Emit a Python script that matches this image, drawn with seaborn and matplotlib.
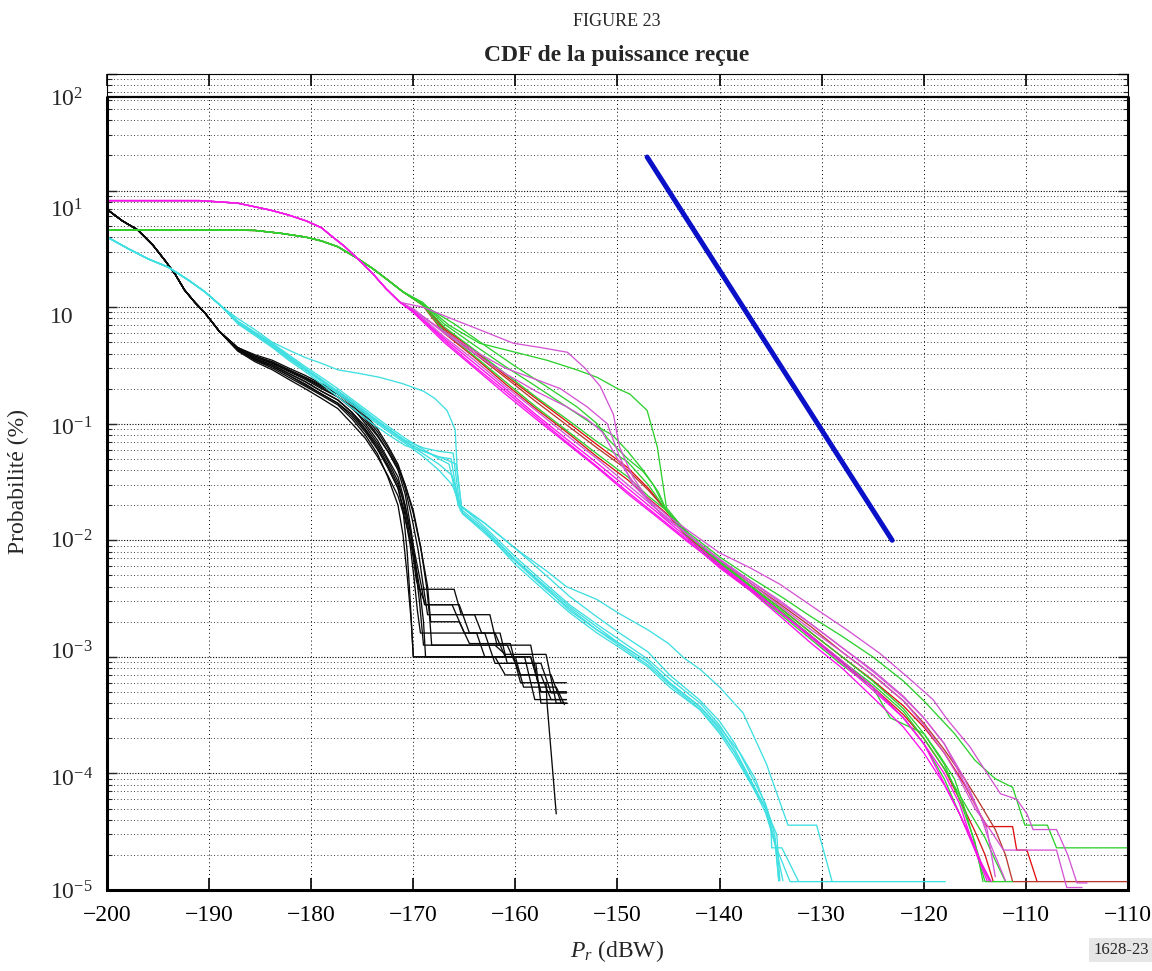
import numpy as np
import pandas as pd
import matplotlib
matplotlib.use("Agg")
import matplotlib.pyplot as plt
import seaborn as sns
from matplotlib.ticker import FixedLocator, NullFormatter
from matplotlib.transforms import blended_transform_factory

# ---------------- DATA (probability in %, power in dBW) ----------------
XTICKS = [-200, -190, -180, -170, -160, -150, -140, -130, -120, -110, -100]
XTICK_LABELS = ["\u2212200", "\u2212190", "\u2212180", "\u2212170", "\u2212160", "\u2212150",
                "\u2212140", "\u2212130", "\u2212120", "\u2212110", "\u2212110"]
YLABELS = ["10$^{2}$", "10$^{1}$", "10", "10$^{-1}$", "10$^{-2}$", "10$^{-3}$", "10$^{-4}$", "10$^{-5}$"]
YLABEL_EXP = [1.717, 0.765, -0.14, -1.10, -2.07, -3.02, -4.11, -5.08]

TOP_LINE_Y = 63.5

# black curves
BLACK_HEAD_X = [-200, -198.5, -197, -195.5, -194.3, -193.3, -192.4, -191.4, -190.4, -189.0]
BLACK_HEAD_Y = [6.9, 5.5, 4.6, 3.4, 2.5, 1.9, 1.4, 1.1, 0.89, 0.62]
BLACK_BODY_X = [-187.2, -185.5, -183.8, -182.2, -180.6, -179, -177.4, -176, -174.7, -173.5, -172.5, -171.5]
BLACK_BODY_Y = [
    [0.45, 0.38, 0.34, 0.29, 0.25, 0.21, 0.18, 0.145, 0.11, 0.08, 0.058, 0.04],
    [0.44, 0.36, 0.32, 0.27, 0.23, 0.19, 0.16, 0.125, 0.095, 0.068, 0.048, 0.032],
    [0.43, 0.35, 0.3, 0.25, 0.21, 0.175, 0.145, 0.11, 0.08, 0.055, 0.035, 0.02],
    [0.44, 0.37, 0.33, 0.28, 0.24, 0.2, 0.17, 0.135, 0.105, 0.078, 0.058, 0.042],
    [0.42, 0.34, 0.29, 0.24, 0.2, 0.165, 0.135, 0.1, 0.075, 0.052, 0.036, 0.024],
    [0.45, 0.39, 0.35, 0.3, 0.26, 0.22, 0.19, 0.155, 0.12, 0.09, 0.065, 0.045],
    [0.43, 0.35, 0.31, 0.26, 0.22, 0.18, 0.15, 0.115, 0.085, 0.06, 0.042, 0.028],
    [0.44, 0.36, 0.32, 0.27, 0.23, 0.19, 0.16, 0.125, 0.09, 0.065, 0.045, 0.03],
    [0.44, 0.37, 0.33, 0.285, 0.245, 0.205, 0.17, 0.14, 0.1, 0.072, 0.05, 0.035],
    [0.45, 0.38, 0.335, 0.29, 0.25, 0.215, 0.18, 0.15, 0.115, 0.085, 0.062, 0.043],
    [0.43, 0.36, 0.31, 0.26, 0.215, 0.18, 0.15, 0.12, 0.088, 0.062, 0.043, 0.028],
]
BLACK_TAIL_X = [
    [-170.8, -170.2, -169.8, -169.5, -166, -165.3, -164, -163.3, -161.5, -160.8, -158, -157.5, -155.2],
    [-171, -170.5, -170, -169.7, -168.8, -165.5, -164.5, -162, -161, -158.5, -157.5, -155],
    [-171, -170.6, -170.2, -170.0, -162, -161, -157.5, -156.5, -155],
    [-170.8, -170, -169.3, -168.7, -168.4, -168.2, -162, -161, -157, -156, -154.9],
    [-170.8, -170, -169.4, -169, -168.8, -159.1, -158.1, -155],
    [-170.8, -170, -169.2, -168.6, -168.3, -165.5, -164.5, -160.5, -159.5, -157, -156.9, -156],
    [-171, -170.6, -170.3, -170.0, -158.5, -157.5, -155],
    [-170.8, -170.2, -169.6, -169.2, -168.9, -166.2, -165, -163, -162, -157.5, -156.5, -155],
    [-171, -170.3, -169.8, -169.4, -169.0, -160.8, -159.5, -156.5, -155.5, -155],
    [-170.8, -170.1, -169.5, -169.1, -168.6, -162.5, -161.8, -158.5, -157.8, -155],
    [-170.9, -170.3, -169.9, -169.6, -169.3, -163.8, -163, -160, -159.2, -156, -155.2],
]
BLACK_TAIL_Y = [
    [0.025, 0.012, 0.0065, 0.0038, 0.0038, 0.0023, 0.0023, 0.0016, 0.0016, 0.00088, 0.00088, 0.0004, 0.0004],
    [0.022, 0.013, 0.007, 0.0045, 0.0028, 0.0028, 0.0016, 0.0016, 0.001, 0.001, 0.0005, 0.0005],
    [0.011, 0.005, 0.002, 0.001, 0.001, 0.0007, 0.0007, 0.00043, 0.00043],
    [0.03, 0.018, 0.009, 0.004, 0.0022, 0.00126, 0.00126, 0.00105, 0.00105, 0.0004, 0.0004],
    [0.015, 0.008, 0.004, 0.002, 0.001, 0.001, 0.00043, 0.00043],
    [0.03, 0.017, 0.008, 0.004, 0.002, 0.002, 0.0013, 0.0013, 0.0006, 0.0006, 0.0004, 0.000045],
    [0.018, 0.008, 0.003, 0.001, 0.001, 0.0005, 0.0005],
    [0.02, 0.011, 0.006, 0.004, 0.0028, 0.0028, 0.0016, 0.0016, 0.00088, 0.00088, 0.00049, 0.00049],
    [0.024, 0.012, 0.006, 0.003, 0.00126, 0.00126, 0.0007, 0.0007, 0.0004, 0.0004],
    [0.028, 0.015, 0.008, 0.0045, 0.0023, 0.0023, 0.00126, 0.00126, 0.0006, 0.0006],
    [0.018, 0.009, 0.0045, 0.0025, 0.0016, 0.0016, 0.001, 0.001, 0.00055, 0.00055, 0.00039],
]

# cyan curves
CYAN_HEAD_X = [-200, -198, -196, -194, -192, -190.4, -188.7]
CYAN_HEAD_Y = [4.0, 3.2, 2.6, 2.2, 1.7, 1.35, 1.0]
CYAN_BODY_X = [-187.2, -185.5, -183.8, -182.2, -180.6, -179, -177.4, -175.7, -174, -172.4, -170.8]
CYAN_X = [
    [-187.2, -185.5, -183.8, -182, -180.6, -179, -177.4, -175.3, -173.3, -171, -169, -167.9, -166.7,
     -165.9, -165.7, -165.2, -163, -160, -157, -154.7, -152, -149.8, -147, -144.9, -141.9, -140,
     -138.5, -137, -135.5, -134.6, -134.2],
    CYAN_BODY_X + [-169, -167.5, -166.2, -165.4, -163, -160, -157, -154.7, -152, -149.8, -147, -144.9,
                   -141.9, -140, -138.5, -137, -135.5, -134.4, -134.1],
    CYAN_BODY_X + [-169, -167.5, -166.1, -165.4, -163, -160, -157, -154.7, -152, -149.8, -147, -144.9,
                   -141.9, -140, -138.5, -137, -135.5, -134.6, -133.1, -117.9],
    CYAN_BODY_X + [-169, -167, -165.8, -165.2, -163, -160, -157, -154.7, -152, -149.8, -147, -144.9,
                   -142, -140, -138, -136.5, -135, -134.9, -133.9, -132.3],
    CYAN_BODY_X + [-169, -167.5, -166.2, -165.4, -163, -160, -157, -154.7, -152, -149.8, -147, -144.9,
                   -142, -140, -138.5, -137, -135.5, -134.6, -134.2],
    CYAN_BODY_X + [-169, -167.5, -166.5, -165.6, -163, -160, -157, -155, -152, -150, -147, -145,
                   -143.5, -141.9, -140, -137.7, -135.4, -133.3, -130.5, -129.0],
    CYAN_BODY_X + [-169, -167.5, -166.3, -165.5, -163, -160, -157, -154.7, -152, -149.8, -147, -144.9,
                   -142, -140, -138.5, -137, -135.5, -134.5, -133.8],
]
CYAN_Y = [
    [0.8, 0.64, 0.5, 0.42, 0.37, 0.33, 0.29, 0.27, 0.25, 0.22, 0.19, 0.165, 0.13, 0.089, 0.04, 0.017,
     0.012, 0.0068, 0.004, 0.0027, 0.0018, 0.0013, 0.0009, 0.0006, 0.00037, 0.00024, 0.00015, 8.8e-5,
     5e-5, 2.7e-5, 1.2e-5],
    [0.73, 0.58, 0.46, 0.36, 0.29, 0.23, 0.18, 0.14, 0.107, 0.085, 0.068,
     0.052, 0.04, 0.03, 0.02, 0.013, 0.0072, 0.0042, 0.0028, 0.0019, 0.0014, 0.00095, 0.00065,
     0.0004, 0.00026, 0.00016, 9e-5, 5e-5, 3e-5, 1.2e-5],
    [0.75, 0.6, 0.48, 0.38, 0.3, 0.24, 0.19, 0.15, 0.115, 0.09, 0.072,
     0.062, 0.058, 0.056, 0.018, 0.012, 0.0062, 0.0036, 0.0024, 0.0016, 0.0012, 0.00082, 0.00055,
     0.00035, 0.00022, 0.00014, 8.3e-5, 5e-5, 2.5e-5, 1.18e-5, 1.18e-5],
    [0.72, 0.57, 0.45, 0.35, 0.28, 0.22, 0.17, 0.13, 0.1, 0.08, 0.065,
     0.058, 0.05, 0.045, 0.017, 0.0115, 0.0066, 0.0038, 0.0026, 0.0017, 0.0013, 0.0009, 0.0006,
     0.00038, 0.00025, 0.00015, 9e-5, 4e-5, 2.3e-5, 2.3e-5, 1.2e-5],
    [0.74, 0.59, 0.47, 0.37, 0.29, 0.235, 0.185, 0.145, 0.11, 0.088, 0.07,
     0.055, 0.045, 0.036, 0.02, 0.014, 0.0085, 0.005, 0.0033, 0.0022, 0.0016, 0.0011, 0.0007,
     0.00043, 0.00028, 0.00018, 0.0001, 5.5e-5, 3e-5, 1.2e-5],
    [0.76, 0.61, 0.49, 0.39, 0.31, 0.25, 0.2, 0.155, 0.12, 0.094, 0.075,
     0.06, 0.05, 0.045, 0.02, 0.014, 0.0085, 0.0055, 0.004, 0.0031, 0.0024, 0.0017, 0.0013,
     0.00098, 0.00078, 0.00055, 0.00033, 0.00012, 3.6e-5, 3.6e-5, 1.2e-5],
    [0.74, 0.6, 0.47, 0.37, 0.295, 0.235, 0.19, 0.148, 0.112, 0.09, 0.071,
     0.058, 0.052, 0.05, 0.019, 0.0125, 0.0068, 0.0039, 0.0025, 0.0017, 0.00125, 0.00085, 0.00058,
     0.00036, 0.00023, 0.00015, 8.5e-5, 4.6e-5, 2.4e-5, 1.2e-5],
]

# magenta curves
MAG_HEAD_X = [-200, -195, -190.9, -187.2, -184, -182.3, -180.5, -179, -177.9, -176.7, -175.5, -174, -172.7, -171.3]
MAG_HEAD_Y = [8.2, 8.2, 8.2, 7.8, 6.8, 6.2, 5.5, 4.8, 4.0, 3.3, 2.63, 1.95, 1.45, 1.1]
BAND_X = [-170, -167, -164, -161, -158, -155, -152, -149, -146, -143, -140, -137, -134, -131, -128, -125, -122]
MAG_X = [
    BAND_X + [-120, -118, -116.5, -115, -113.8],
    [-170, -169.05, -166, -163.5, -160.2, -157.5, -154.9, -153.2, -151.7, -150.4, -149.8, -148.5, -147.1,
     -145, -143, -140, -137, -134.1, -130.9, -127.5, -124.3, -121.5, -119.1, -117.7, -115.5, -113.8,
     -112.5, -110.9, -109.9, -109.3, -107, -105.9, -105, -104],
    [-170, -167, -164, -161, -158, -155.6, -153, -151, -149.8, -148.5, -146, -143, -140, -137, -134,
     -131, -128, -125, -122, -120, -118, -116.5, -115, -113.8, -113.0],
    BAND_X + [-120, -118.5, -117, -115.5, -114.5, -113.4],
    BAND_X + [-120, -118, -116.5, -115, -113.8, -112.2, -107, -106, -104.5],
    [-170, -167, -164, -161, -158, -155, -153, -151.5, -150, -148.5, -147, -145.5, -143, -140, -137,
     -134, -131, -128, -125, -122, -120, -118, -116, -114.5, -113.5, -112],
    BAND_X + [-120, -118, -116.5, -115.5, -114.5, -113.6],
]
MAG_Y = [
    [0.93, 0.52, 0.31, 0.19, 0.115, 0.07, 0.043, 0.026, 0.016, 0.0098, 0.0058, 0.0037, 0.0022, 0.0013,
     0.0008, 0.00045, 0.00025, 0.00015, 8e-5, 4.5e-5, 2.2e-5, 1.2e-5],
    [1.04, 1.0, 0.78, 0.64, 0.49, 0.45, 0.41, 0.3, 0.21, 0.12, 0.063, 0.035, 0.023, 0.016, 0.012, 0.0078,
     0.0058, 0.0042, 0.0027, 0.0017, 0.00107, 0.00066, 0.00043, 0.00029, 0.00017, 0.0001, 6.7e-5, 6e-5,
     4.5e-5, 3.3e-5, 3.3e-5, 2e-5, 1.15e-5, 1.15e-5],
    [0.95, 0.62, 0.42, 0.3, 0.24, 0.2, 0.14, 0.1, 0.052, 0.03, 0.018, 0.011, 0.0068, 0.0045, 0.0029,
     0.0019, 0.0012, 0.00075, 0.00045, 0.0003, 0.00018, 0.0001, 5.5e-5, 3.3e-5, 1.3e-5],
    [0.9, 0.5, 0.3, 0.18, 0.11, 0.068, 0.042, 0.025, 0.0155, 0.0095, 0.006, 0.0038, 0.0024, 0.0015,
     0.00092, 0.00055, 0.0003, 0.00018, 0.0001, 5.5e-5, 3e-5, 1.8e-5, 1.18e-5],
    [0.95, 0.56, 0.35, 0.21, 0.13, 0.08, 0.05, 0.03, 0.018, 0.011, 0.0068, 0.0043, 0.0027, 0.0017,
     0.0011, 0.0007, 0.00042, 0.00026, 0.00015, 9e-5, 5e-5, 3.6e-5, 2.2e-5, 2.2e-5, 1.05e-5, 1.05e-5],
    [0.97, 0.6, 0.4, 0.27, 0.19, 0.14, 0.11, 0.085, 0.05, 0.032, 0.022, 0.016, 0.011, 0.0069, 0.0045,
     0.003, 0.0019, 0.0012, 0.00077, 0.00046, 0.0003, 0.00018, 9e-5, 4.5e-5, 2.5e-5, 1.2e-5],
    [0.92, 0.54, 0.33, 0.2, 0.12, 0.074, 0.046, 0.028, 0.017, 0.0102, 0.0062, 0.0039, 0.0024, 0.00145,
     0.00088, 0.00052, 0.0003, 0.00018, 0.0001, 5.5e-5, 3e-5, 1.8e-5, 1.2e-5],
]
MAG_BRIGHT = [True, False, False, True, False, False, True]

# green curves (red curves share the same head)
GRN_HEAD_X = [-200, -190, -185.5, -183, -180.6, -179, -177.4, -175.5, -174, -172.5, -171]
GRN_HEAD_Y = [4.6, 4.6, 4.55, 4.3, 4.0, 3.7, 3.3, 2.63, 2.15, 1.71, 1.35]
GRN_X = [
    [-169.1, -166.5, -163.5, -160, -156.9, -154, -152, -150, -148.8, -147.1, -146.1, -145.2, -143, -140,
     -137, -134, -131, -128, -125, -122, -120, -118, -116.5, -115, -114.0, -111.3],
    [-169.1, -166, -163, -160, -157, -154, -152, -151, -149, -147.5, -146.5, -145.2, -143, -140, -137,
     -134, -131, -128, -125, -122, -120, -117, -115, -113, -111.3, -110.1, -107.9, -107, -100],
    [-169.1, -167, -164, -161, -158, -155, -152, -149, -147, -145.2, -143, -140, -137, -134, -131, -128,
     -125, -122, -120, -118, -116, -114, -113, -112],
    [-169.1, -167, -164, -161, -158, -155, -152, -149, -147, -145.2, -143, -140, -137, -134, -131, -128,
     -125, -123.3, -120, -118.4, -117, -116, -115, -114.3, -113.5],
    [-169.1, -167, -164, -161, -158, -155, -152.5, -150.5, -149, -147.5, -146, -145.2, -143, -140, -137,
     -134, -131, -128, -125, -122, -120, -118, -116.5, -115, -114.2],
]
GRN_Y = [
    [1.09, 0.7, 0.49, 0.41, 0.35, 0.29, 0.25, 0.2, 0.18, 0.13, 0.063, 0.019, 0.011, 0.0065, 0.004, 0.0024,
     0.0015, 0.0009, 0.00055, 0.0003, 0.00018, 9e-5, 4.5e-5, 2.3e-5, 1.18e-5, 1.18e-5],
    [1.05, 0.72, 0.47, 0.31, 0.21, 0.14, 0.1, 0.075, 0.05, 0.039, 0.03, 0.018, 0.0115, 0.0072, 0.0048,
     0.0033, 0.0022, 0.0015, 0.001, 0.00062, 0.00042, 0.00022, 0.00013, 9e-5, 7.6e-5, 3.6e-5, 3.6e-5,
     2.3e-5, 2.3e-5],
    [1.08, 0.68, 0.43, 0.27, 0.17, 0.11, 0.07, 0.047, 0.03, 0.018, 0.0108, 0.0064, 0.004, 0.0025, 0.0015,
     0.00092, 0.00058, 0.00034, 0.0002, 0.00011, 5.5e-5, 2.8e-5, 1.8e-5, 1.18e-5],
    [1.05, 0.62, 0.38, 0.23, 0.14, 0.088, 0.055, 0.035, 0.024, 0.018, 0.0102, 0.006, 0.0037, 0.0023,
     0.0014, 0.00085, 0.00055, 0.0003, 0.00022, 0.00014, 9e-5, 5e-5, 2.5e-5, 1.6e-5, 1.18e-5],
    [1.1, 0.72, 0.47, 0.31, 0.21, 0.14, 0.1, 0.08, 0.058, 0.04, 0.026, 0.018, 0.011, 0.0066, 0.0041,
     0.0026, 0.0016, 0.001, 0.00062, 0.00036, 0.00022, 0.00012, 6e-5, 2.6e-5, 1.18e-5],
]
RED_X = [
    [-169.1, -167, -164, -161, -158, -155, -152, -149, -147, -145.2, -143, -140, -137, -134, -131, -128,
     -125, -122, -120, -118, -116, -114.5, -113.8, -111.3, -110.9, -109.9, -108.9],
    [-169.1, -167, -164, -161, -158, -155, -152, -149, -147, -145.2, -143, -140, -137, -134, -131, -128,
     -125, -122, -120, -118, -116, -114.5, -113, -112, -111.3, -100],
    [-169.1, -167, -164, -161, -158, -155, -152, -149, -147, -145.2, -143, -140, -137, -134, -131, -128,
     -125, -122, -120, -118, -116.5, -115, -114, -113.2],
]
RED_Y = [
    [1.07, 0.66, 0.42, 0.26, 0.165, 0.105, 0.066, 0.042, 0.028, 0.018, 0.0105, 0.0063, 0.0041, 0.0026,
     0.0016, 0.001, 0.00063, 0.00038, 0.00025, 0.00015, 8e-5, 4.5e-5, 3.5e-5, 3.5e-5, 2.2e-5, 2.2e-5, 1.18e-5],
    [1.06, 0.64, 0.4, 0.25, 0.155, 0.098, 0.062, 0.04, 0.027, 0.018, 0.011, 0.0066, 0.0043, 0.0028,
     0.0018, 0.0011, 0.0007, 0.00042, 0.00027, 0.00016, 9e-5, 5.5e-5, 3.3e-5, 2e-5, 1.18e-5, 1.18e-5],
    [1.04, 0.6, 0.37, 0.22, 0.135, 0.085, 0.052, 0.033, 0.023, 0.017, 0.0102, 0.006, 0.0038, 0.0024,
     0.0015, 0.0009, 0.00055, 0.00032, 0.0002, 0.00011, 6e-5, 3.2e-5, 2e-5, 1.18e-5],
]
RED_COLORS = ["#e01010", "#b83a30", "#d81818"]

BLUE_X = [-147.1, -123.1]
BLUE_Y = [19.4, 0.01]

# ---------------- build long table ----------------
rows = []
palette = {}

def add(name, xs, ys, color):
    assert len(xs) == len(ys), name
    for a, b in zip(xs, ys):
        rows.append((a, b, name))
    palette[name] = color

for i in range(len(BLACK_BODY_Y)):
    add(f"B{i}", BLACK_HEAD_X + BLACK_BODY_X + BLACK_TAIL_X[i],
        BLACK_HEAD_Y + BLACK_BODY_Y[i] + BLACK_TAIL_Y[i], "#0a0a0a")
for i in range(len(CYAN_X)):
    add(f"C{i}", CYAN_HEAD_X + CYAN_X[i], CYAN_HEAD_Y + CYAN_Y[i], "#3fdfe2")
for i in range(len(RED_X)):
    add(f"R{i}", GRN_HEAD_X + RED_X[i], GRN_HEAD_Y + RED_Y[i], RED_COLORS[i])
for i in range(len(GRN_X)):
    add(f"G{i}", GRN_HEAD_X + GRN_X[i], GRN_HEAD_Y + GRN_Y[i], "#2fd02f")
for i in range(len(MAG_X)):
    add(f"M{i}", MAG_HEAD_X + MAG_X[i], MAG_HEAD_Y + MAG_Y[i],
        "#ff10ee" if MAG_BRIGHT[i] else "#d455d4")

df = pd.DataFrame(rows, columns=["x", "y", "curve"])

# ---------------- style ----------------
sns.set_style("white")
plt.rcParams["font.family"] = ["Liberation Serif", "DejaVu Serif"]
plt.rcParams["mathtext.fontset"] = "custom"
plt.rcParams["mathtext.rm"] = "Liberation Serif"
plt.rcParams["mathtext.it"] = "Liberation Serif:italic"
plt.rcParams["mathtext.bf"] = "Liberation Serif:bold"
plt.rcParams["axes.unicode_minus"] = True

W, H = 1152, 971
fig = plt.figure(figsize=(W / 100, H / 100), dpi=100)
L_, R_, T_, B_ = 107, 1128, 74, 890
ax = fig.add_axes([L_ / W, 1 - B_ / H, (R_ - L_) / W, (B_ - T_) / H])
ax.set_yscale("log")
ax.set_xlim(-200, -100)
ax.set_ylim(1e-5, 1e2)

sns.lineplot(data=df, x="x", y="y", hue="curve", palette=palette, estimator=None,
             sort=False, legend=False, linewidth=0.95, ax=ax)
sns.lineplot(x=BLUE_X, y=BLUE_Y, color="#0a10c8", linewidth=3.6, ax=ax, sort=False)
ax.axhline(TOP_LINE_Y, color="k", lw=1.6)

# grids / ticks
decades = [10.0 ** e for e in range(-5, 3)]
minors = [k * 10.0 ** e for e in range(-5, 2) for k in range(2, 10)]
ax.yaxis.set_major_locator(FixedLocator(decades))
ax.yaxis.set_minor_locator(FixedLocator(minors))
ax.yaxis.set_major_formatter(NullFormatter())
ax.yaxis.set_minor_formatter(NullFormatter())
ax.set_xticks(XTICKS)
ax.set_xticklabels(XTICK_LABELS)

ax.grid(False)
ax.xaxis.grid(True, which="major", linestyle=(0, (1, 3)), color="k", lw=0.7)
ax.yaxis.grid(True, which="major", linestyle=(0, (1, 1.5)), color="k", lw=0.8)
ax.yaxis.grid(True, which="minor", linestyle=(0, (1, 3)), color="k", lw=0.6)
ax.set_axisbelow(True)

ax.tick_params(axis="x", which="major", direction="in", length=8.5, width=1.2, top=True,
               bottom=True, labelsize=17, pad=11, color="k", labelcolor="k")
ax.tick_params(axis="y", which="major", direction="in", length=7, width=1.0, left=True,
               right=True, labelleft=False)
ax.tick_params(axis="y", which="minor", direction="in", length=3.5, width=0.8, left=True, right=True)

for s in ["left", "right", "top"]:
    ax.spines[s].set_linewidth(0.8)
    ax.spines[s].set_color("k")
ax.spines["bottom"].set_linewidth(2.2)
ax.spines["bottom"].set_color("k")
frac = (np.log10(TOP_LINE_Y) + 5) / 7
ax.axvline(-200, 0, frac, color="k", lw=2.2, clip_on=False)
ax.axvline(-100, 0, frac, color="k", lw=2.2, clip_on=False)

# y tick labels (placed as in the original figure)
tr = blended_transform_factory(ax.transAxes, ax.transData)
for lab, e in zip(YLABELS, YLABEL_EXP):
    ax.text((50 - L_) / (R_ - L_), 10 ** e, lab, transform=tr, ha="left", va="baseline",
            fontsize=17, clip_on=False)

ax.set_xlabel("$P_r$ (dBW)", fontsize=17)
ax.xaxis.set_label_coords(0.5, -0.0588)
ax.set_ylabel("Probabilité (%)", fontsize=17)
ax.yaxis.set_label_coords(-0.076, 0.5)

fig.text(617 / W, 1 - 22 / H, "FIGURE 23", ha="center", va="center", fontsize=13)
fig.text(617 / W, 1 - 55 / H, "CDF de la puissance reçue", ha="center", va="center",
         fontsize=17, fontweight="bold")
fig.text(1121 / W, 1 - 950 / H, "1628-23", ha="center", va="center", fontsize=12,
         bbox=dict(boxstyle="square,pad=0.25", fc="#e6e6e6", ec="none"))

fig.savefig("out.png", dpi=100, facecolor="white")
